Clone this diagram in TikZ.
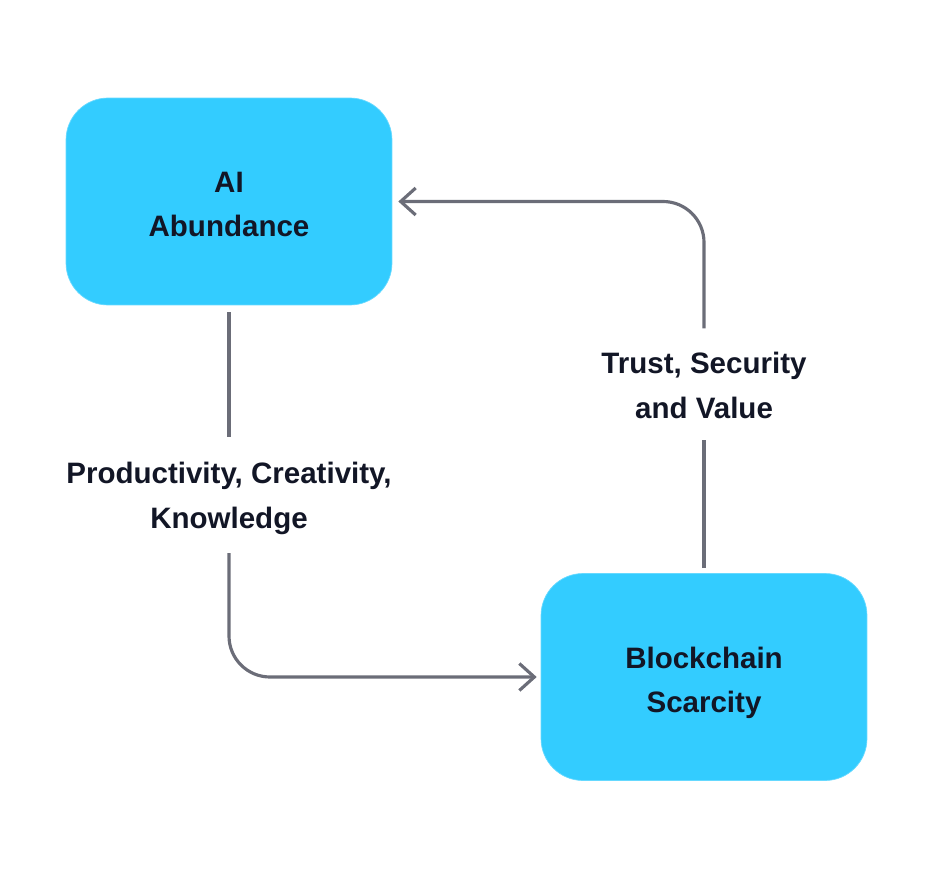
\documentclass[tikz,border=0pt]{standalone}
\usepackage{fontspec}
\setmainfont{Liberation Sans}
\usetikzlibrary{arrows.meta,positioning}
\definecolor{boxblue}{HTML}{33CCFF}
\definecolor{linegray}{HTML}{6B6D78}
\definecolor{textdark}{HTML}{121626}

\begin{document}
\begin{tikzpicture}[x=0.02cm,y=-0.02cm,
    block/.style={fill=boxblue, draw=boxblue!75!white, line width=0.4pt,
      rounded corners=0.84cm, minimum width=6.52cm, minimum height=4.14cm,
      text height=1.40cm, text depth=0cm, align=center, text=textdark,
      font=\fontsize{16.8}{25}\selectfont\bfseries},
    flowlabel/.style={align=center, inner sep=0pt, text=textdark,
      font=\fontsize{16.8}{25.6}\selectfont\bfseries},
    link/.style={draw=linegray, line width=1.8pt, rounded corners=0.82cm},
    tip/.style={-{Straight Barb[length=0.3cm, width=0.54cm]}}]
  \useasboundingbox (0,0) rectangle (942,888);

  \node[block] (ai) at (229,201.5) {AI\\Abundance};
  \node[block] (bc) at (704,677) {Blockchain\\Scarcity};

  \node[flowlabel] (pck) at (229,498.5) {Productivity, Creativity,\\Knowledge};
  \node[flowlabel] (tsv) at (704,385.5) {Trust, Security\\and Value};

  % abundance -> scarcity
  \draw[link, shorten <=0.14cm, shorten >=0.5cm] (ai.south) -- (pck.north);
  \draw[link, tip, shorten <=0.36cm, shorten >=0.08cm] (pck.south) |- (bc.west);

  % scarcity -> abundance
  \draw[link, shorten <=0.1cm, shorten >=0.41cm] (bc.north) -- (tsv.south);
  \draw[link, tip, shorten <=0.47cm, shorten >=0.12cm] (tsv.north) |- (ai.east);
\end{tikzpicture}
\end{document}
